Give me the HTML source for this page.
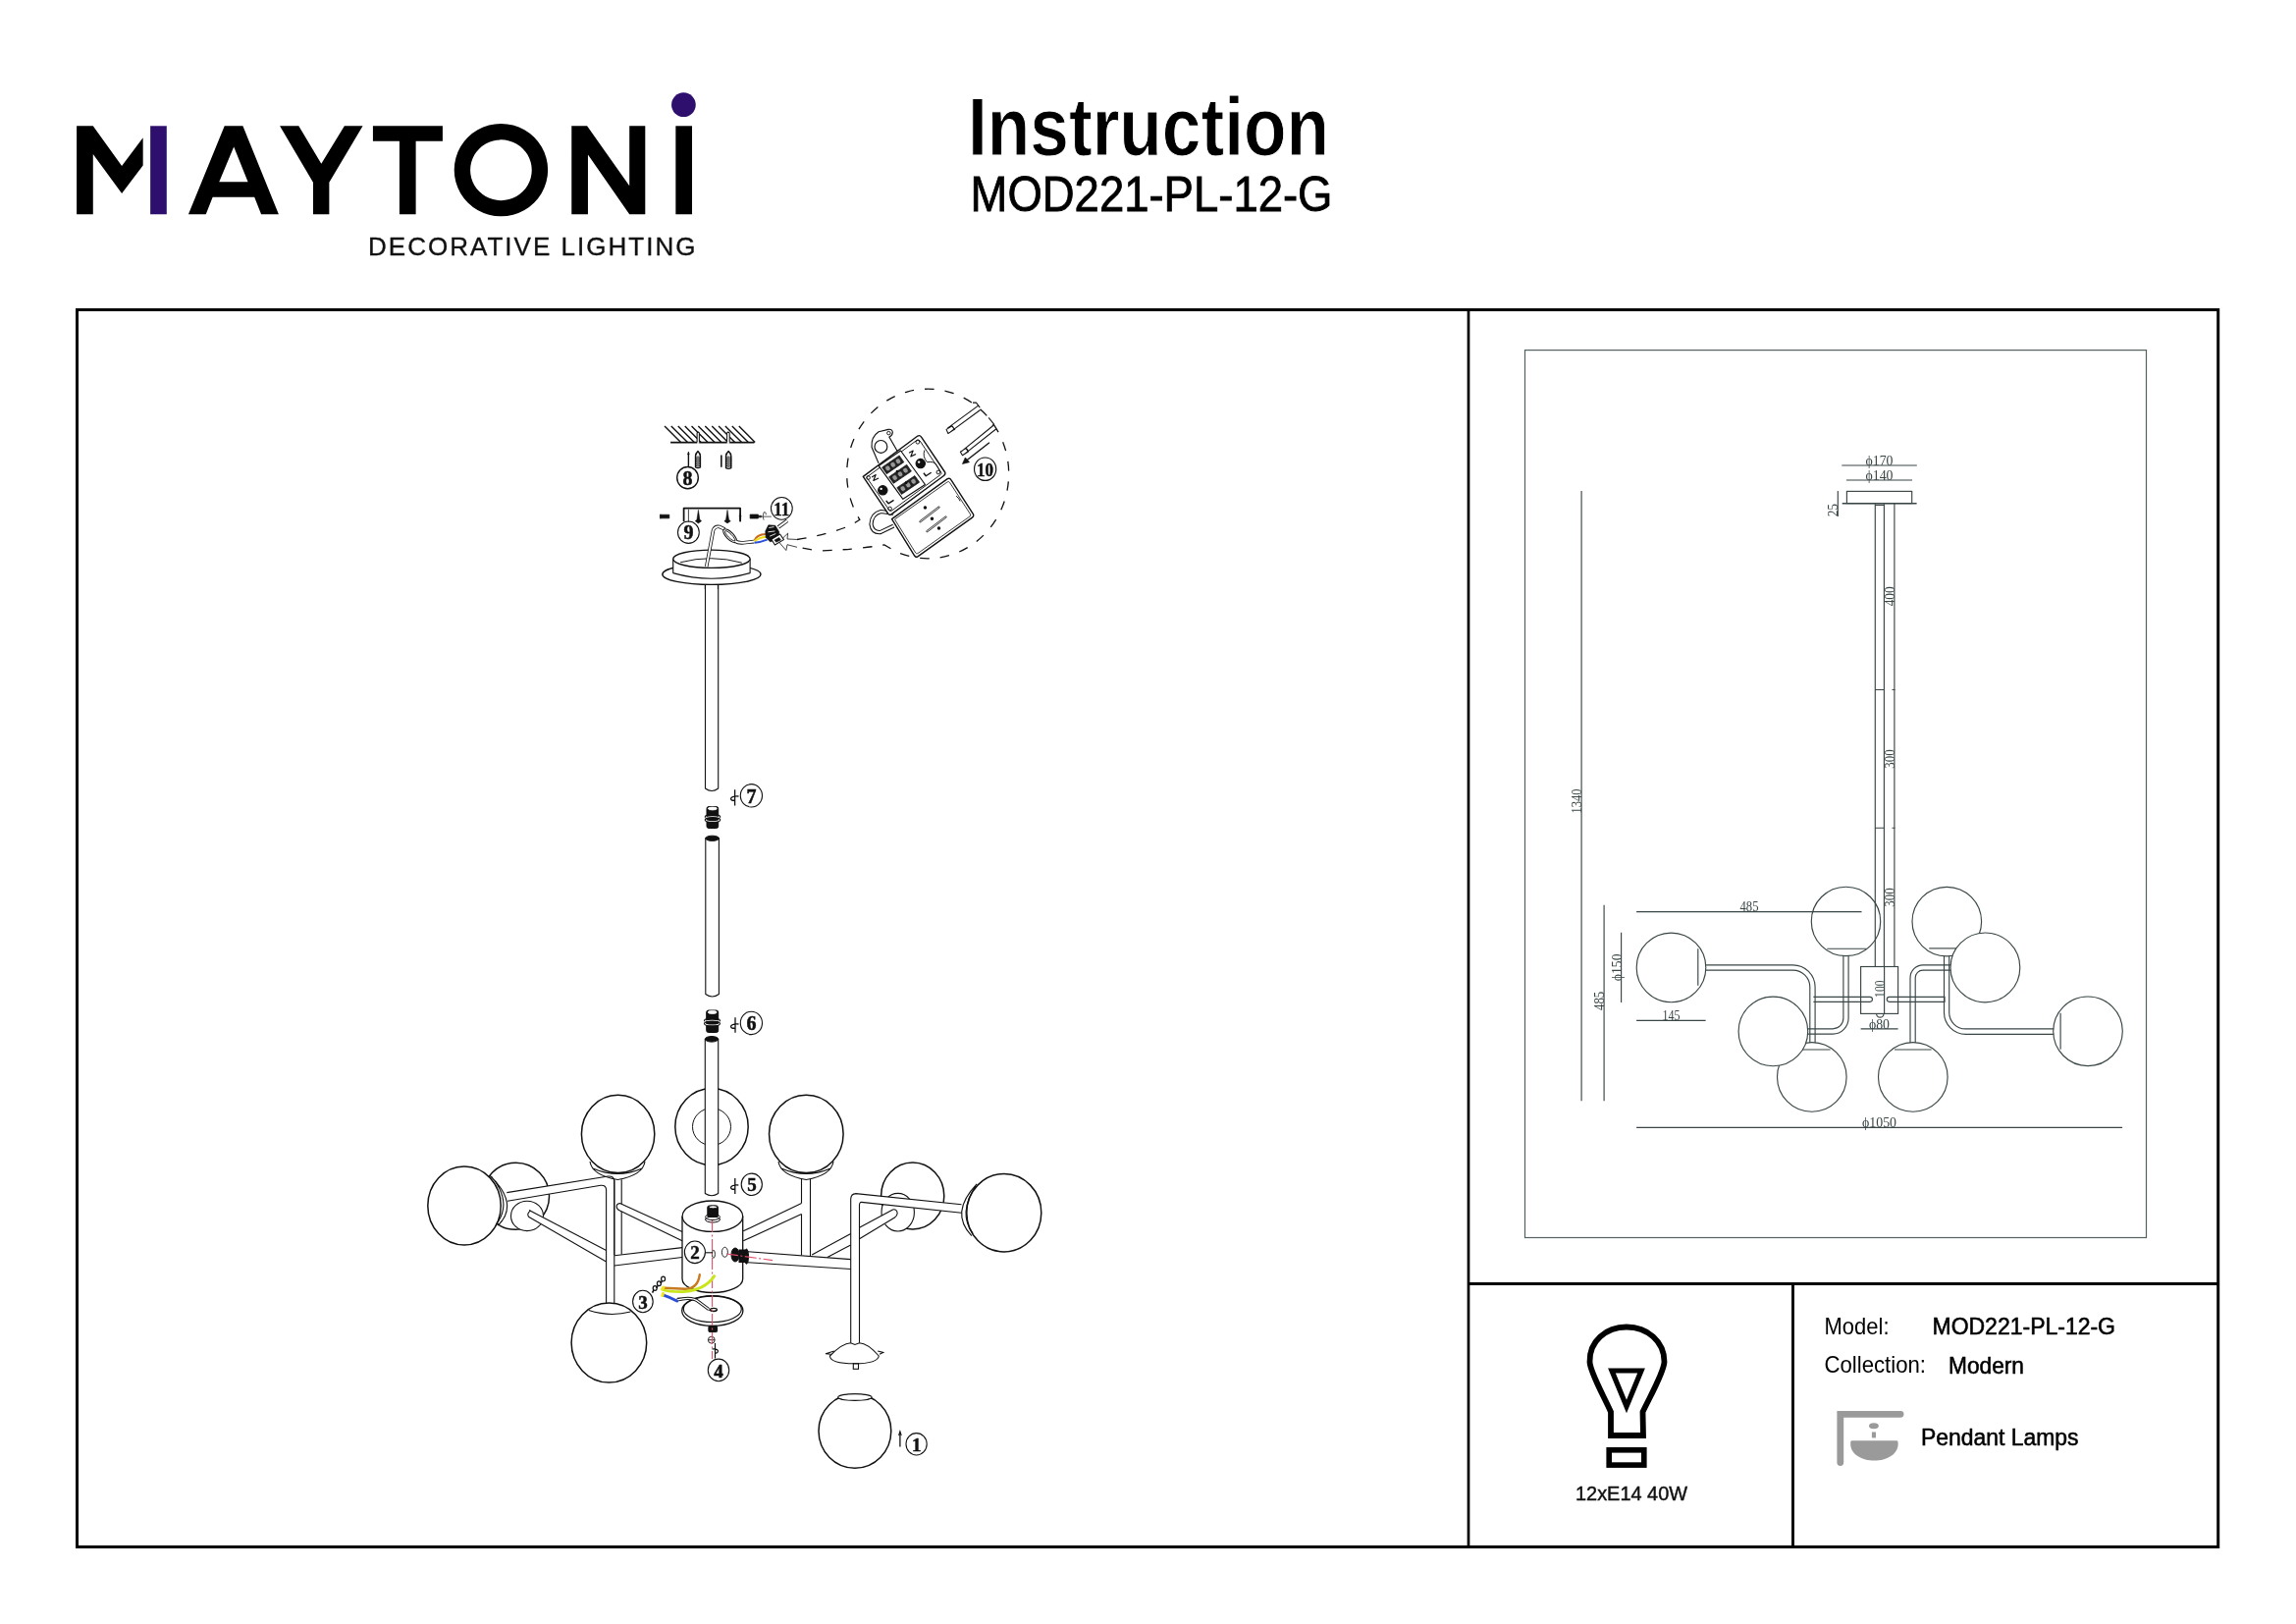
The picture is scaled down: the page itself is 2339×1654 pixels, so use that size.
<!DOCTYPE html>
<html><head><meta charset="utf-8">
<style>
html,body{margin:0;padding:0;background:#fff;}
body{width:2339px;height:1654px;overflow:hidden;position:relative;}
svg{position:absolute;left:0;top:0;will-change:transform;}
text{font-family:"Liberation Sans",sans-serif;}
.serif text,text.serif{font-family:"Liberation Serif",serif;}

</style></head><body>
<svg width="2339" height="1654" viewBox="0 0 2339 1654">
<!-- LOGO (zoom coords of region 60,80 scale 3.479) -->
<g transform="translate(60,80) scale(0.28744)">
<path fill="#000" d="M63,168 L121,168 L223,310 L298,210 L298,308 L223,407 L121,268 L121,481 L63,481 Z"/>
<rect x="324" y="168" width="58" height="313" fill="#2e0f6e"/>
<path fill="#000" fill-rule="evenodd" d="M459,481 L587,168 L652,168 L779,481 L717,481 L693,420 L545,420 L521,481 Z M568,366 L620,242 L670,366 Z"/>
<path fill="#000" d="M783,168 L850,168 L930,302 L1012,168 L1077,168 L958,368 L958,481 L901,481 L901,368 Z"/>
<path fill="#000" d="M1113,168 L1360,168 L1360,222 L1265,222 L1265,481 L1207,481 L1207,222 L1113,222 Z"/>
<path fill="#000" fill-rule="evenodd" d="M1567,160 A166,164 0 1,0 1567.01,160 Z M1567,217 A109,107.5 0 1,1 1566.99,217 Z"/>
<path fill="#000" d="M1817,168 L1872,168 L2022,380 L2022,168 L2078,168 L2078,481 L2022,481 L1875,270 L1875,481 L1817,481 Z"/>
<rect x="2186" y="168" width="58" height="313" fill="#000"/>
<circle cx="2214" cy="93" r="43" fill="#2e0f6e"/>
</g>
<text x="375" y="260" font-size="26" textLength="333.5" lengthAdjust="spacing" fill="#111" stroke="#111" stroke-width="0.35">DECORATIVE LIGHTING</text>
<!-- Title -->
<text x="986" y="157.7" font-size="84" font-weight="bold" textLength="368" lengthAdjust="spacingAndGlyphs" stroke="#fff" stroke-width="1">Instruction</text>
<text x="988.5" y="215" font-size="49.4" textLength="369" lengthAdjust="spacingAndGlyphs" stroke="#000" stroke-width="0.8">MOD221-PL-12-G</text>
<!-- Frame -->
<g stroke="#000" fill="none">
<rect x="78.5" y="315.5" width="2181.2" height="1260" stroke-width="3"/>
<line x1="1496" y1="315" x2="1496" y2="1576" stroke-width="2.7"/>
<line x1="1496" y1="1307.4" x2="2260" y2="1307.4" stroke-width="3"/>
<line x1="1826.5" y1="1307" x2="1826.5" y2="1576" stroke-width="2.9"/>
</g>
<rect x="1553.5" y="356.6" width="633" height="903.9" fill="none" stroke="#556061" stroke-width="1.2"/>
<!-- Bulb icon -->
<g fill="none" stroke="#000" stroke-width="5.8" stroke-linejoin="miter">
<path d="M1641,1462 L1641,1438 C1634,1422 1620,1398 1619.5,1387 C1619,1366 1636,1351.5 1657,1351.5 C1678,1351.5 1695.5,1366 1695.5,1387 C1695,1398 1681,1422 1673.5,1438 L1674,1462 Z"/>
<path d="M1642,1396 L1672,1396 L1657,1432.5 Z" stroke-width="5.2"/>
<rect x="1639.2" y="1476.8" width="35.6" height="15.3" stroke-width="5.6"/>
</g>
<text x="1605" y="1528" font-size="20" textLength="114" lengthAdjust="spacingAndGlyphs" stroke="#111" stroke-width="0.45" fill="#111">12xE14 40W</text>
<!-- Info -->
<text x="1858.5" y="1359.2" font-size="23.7" textLength="66" lengthAdjust="spacingAndGlyphs">Model:</text>
<text x="1968.5" y="1359.2" font-size="23.7" textLength="186.5" lengthAdjust="spacingAndGlyphs" stroke="#000" stroke-width="0.55">MOD221-PL-12-G</text>
<text x="1858.5" y="1398.2" font-size="23.2" textLength="103.5" lengthAdjust="spacingAndGlyphs">Collection:</text>
<text x="1985" y="1399" font-size="23.4" textLength="77" lengthAdjust="spacingAndGlyphs" stroke="#000" stroke-width="0.55">Modern</text>
<g fill="#9a9a9a">
<path d="M1874.8,1489.6 L1874.8,1440.3 L1936.1,1440.3" stroke="#9a9a9a" stroke-width="6.8" stroke-linecap="round" stroke-linejoin="miter" fill="none"/>
<ellipse cx="1908.9" cy="1452.2" rx="4.9" ry="3"/>
<rect x="1906.9" y="1458.5" width="4.1" height="5.9"/>
<path d="M1886.5,1467.3 L1932.3,1467.3 Q1933.6,1467.3 1933.6,1469 L1933.6,1471 C1933.6,1481 1922,1487.6 1909.4,1487.6 C1896.8,1487.6 1885.2,1481 1885.2,1471 L1885.2,1469 Q1885.2,1467.3 1886.5,1467.3 Z"/>
</g>
<text x="1957" y="1471.8" font-size="24.3" textLength="160.5" lengthAdjust="spacingAndGlyphs" stroke="#000" stroke-width="0.55">Pendant Lamps</text>
<!-- RIGHT TECH DRAWING -->
<g fill="none" stroke="#3a4646" stroke-width="1.15">
<!-- dimension lines -->
<path d="M1611.1,500 V1121.3 M1634.1,921.8 V1121.3 M1651.6,949.7 V1021.1 M1876.3,474 H1952.8 M1880.9,489 H1948 M1872.3,500 V526 M1929.9,513 V984.5 M1667.1,928.6 H1896.5 M1667.1,1039.4 H1737.6 M1895.6,1047.8 H1933.6 M1667.1,1148.3 H2162.1"/>
<path d="M1927.5,702.5 H1930.5 M1927.5,843.2 H1930.5"/>
<!-- canopy + stem -->
<rect x="1881.4" y="500.4" width="66.3" height="12.2"/>
<path d="M1876.7,512.8 H1952.6" stroke-width="1.6"/>
<path d="M1910.3,513.2 V984.5 M1919.4,513.2 V984.5 M1910.3,702.5 H1919.4 M1910.3,843.2 H1919.4 M1910.3,514.5 H1919.4"/>
<rect x="1895.6" y="984.5" width="38" height="47.9"/>
<path d="M1919.6,984.5 V1032.4"/>
<path d="M1911.6,1032.4 A3.7,3.7 0 0,0 1919,1032.4"/>
<!-- globes -->
<circle cx="1702.5" cy="985.4" r="35.3"/>
<path d="M1729.8,966.2 V1003.7"/>
<circle cx="1880.5" cy="938.4" r="35.2"/>
<path d="M1861.3,966.2 H1901.4"/>
<circle cx="1983.3" cy="938.6" r="35.3"/>
<path d="M1965.2,965.9 H1993.1"/>
<circle cx="2127" cy="1050.3" r="35.3"/>
<path d="M2099.1,1031.7 V1068.8"/>
<circle cx="1845.8" cy="1096.9" r="35.3"/>
<path d="M1827,1069 H1864.6"/>
<circle cx="1948.8" cy="1096.9" r="35.3"/>
<path d="M1930,1069 H1967.6"/>
<!-- arms -->
<path d="M1737.6,982.8 H1826.5 A22.6,22.6 0 0,1 1849.1,1005.4 V1062 M1737.6,988.1 H1826.5 A17.3,17.3 0 0,1 1843.8,1005.4 V1062"/>
<path d="M1877.9,973.6 V1037 A10.8,10.8 0 0,1 1867.1,1047.8 H1842 M1883.1,973.6 V1037 A16,16 0 0,1 1867.1,1053.1 H1842"/>
<path d="M1980.5,974 V1031.3 A22,22 0 0,0 2002.5,1053.3 H2092.2 M1985.7,974 V1031.3 A16.6,16.6 0 0,0 2002.3,1047.9 H2092.2"/>
<path d="M1987,982.9 H1959 A13,13 0 0,0 1946,995.9 V1061.9 M1987,988.1 H1959 A7.8,7.8 0 0,0 1951.2,995.9 V1061.9"/>
<path d="M1847.4,1015.4 H1905 A2.45,2.45 0 0,1 1905,1020.3 H1847.4 M1924.7,1015.4 H1981 V1020.3 H1924.7 A2.45,2.45 0 0,1 1924.7,1015.4"/>
</g>
<g fill="#fff" stroke="#3a4646" stroke-width="1.15">
<circle cx="2022.4" cy="985.4" r="35.4"/>
<circle cx="1806.4" cy="1050.4" r="35.3"/>
</g>
<g class="serif" font-family="Liberation Serif" font-size="14" fill="#3a4646" text-anchor="middle">
<text x="1914.5" y="473.5" textLength="28" lengthAdjust="spacingAndGlyphs">ϕ170</text>
<text x="1914.5" y="488.5" textLength="28" lengthAdjust="spacingAndGlyphs">ϕ140</text>
<text x="1782" y="928" textLength="19" lengthAdjust="spacingAndGlyphs">485</text>
<text x="1702.5" y="1039" textLength="18" lengthAdjust="spacingAndGlyphs">145</text>
<text x="1914.5" y="1047.5" textLength="21" lengthAdjust="spacingAndGlyphs">ϕ80</text>
<text x="1914.5" y="1148" textLength="35" lengthAdjust="spacingAndGlyphs">ϕ1050</text>
<text transform="translate(1872,519.6) rotate(-90)" textLength="12.8" lengthAdjust="spacingAndGlyphs">25</text>
<text transform="translate(1930,607.3) rotate(-90)" textLength="20" lengthAdjust="spacingAndGlyphs">400</text>
<text transform="translate(1929.5,773) rotate(-90)" textLength="19.5" lengthAdjust="spacingAndGlyphs">300</text>
<text transform="translate(1930,914) rotate(-90)" textLength="19.5" lengthAdjust="spacingAndGlyphs">300</text>
<text transform="translate(1611,816) rotate(-90)" textLength="25" lengthAdjust="spacingAndGlyphs">1340</text>
<text transform="translate(1634,1019.4) rotate(-90)" textLength="19.2" lengthAdjust="spacingAndGlyphs">485</text>
<text transform="translate(1652,985.4) rotate(-90)" textLength="27.8" lengthAdjust="spacingAndGlyphs">ϕ150</text>
<text transform="translate(1919.5,1007.2) rotate(-90)" textLength="17.4" lengthAdjust="spacingAndGlyphs">100</text>
</g>
<!-- LEFT EXPLODED DRAWING -->
<g fill="none" stroke="#111" stroke-width="1.2" stroke-linejoin="round">
<!-- back globe -->
<ellipse cx="725" cy="1147.6" rx="37.2" ry="39" stroke-width="1.5"/>
<ellipse cx="725" cy="1147.6" rx="19.5" ry="18.9" stroke-width="1"/>
<!-- back globes left/right -->
<ellipse cx="525.5" cy="1218.3" rx="34" ry="34" stroke-width="1.5"/>
<ellipse cx="929.7" cy="1218" rx="32.1" ry="34" stroke-width="1.5"/>
</g>
<g fill="#fff" stroke="#111" stroke-width="1.1" stroke-linejoin="round">
<ellipse cx="537" cy="1238.4" rx="16.5" ry="15.2"/>
<ellipse cx="914.7" cy="1234.7" rx="16.7" ry="19.3"/>
<!-- stems -->
<path d="M718.5,595.8 V803 Q725.1,808 731.7,803 V595.8"/>
<path d="M718.8,853.3 V1012.5 Q725.6,1017.5 732.4,1012.5 V853.3"/>
<path d="M718.3,1058.3 V1215.5 Q725,1220 731.7,1215.5 V1058.3"/>
</g>
<g fill="#111" stroke="#111" stroke-width="1">
<ellipse cx="725.6" cy="853.8" rx="6.8" ry="2.6"/>
<ellipse cx="725" cy="1058.3" rx="6.7" ry="2.8"/>
<!-- couplers -->
<rect x="720" y="821.5" width="11.7" height="22" rx="2"/>
<rect x="719.7" y="1029" width="12" height="22.5" rx="2"/>
</g>
<g fill="none" stroke="#fff" stroke-width="0.9">
<ellipse cx="725.8" cy="823.5" rx="4.5" ry="1.4" fill="#fff"/>
<ellipse cx="725.7" cy="1031" rx="4.5" ry="1.4" fill="#fff"/>
</g>
<g fill="none" stroke="#111" stroke-width="1.1">
<ellipse cx="726" cy="832" rx="7.8" ry="2.4"/>
<ellipse cx="726" cy="834.3" rx="7.8" ry="2.4" stroke="#fff" stroke-width="1.2"/>
<ellipse cx="726" cy="835" rx="7.8" ry="2.4"/>
<ellipse cx="725.5" cy="1039.5" rx="8" ry="2.4"/>
<ellipse cx="725.5" cy="1041.8" rx="8" ry="2.4" stroke="#fff" stroke-width="1.2"/>
<ellipse cx="725.5" cy="1042.5" rx="8" ry="2.4"/>
</g>
<!-- arms (behind front globes) -->
<g fill="#fff" stroke="none">
<path d="M516.3,1214.6 L621.2,1197.8 L625.8,1203 L625.8,1327 L617.6,1327 L617.6,1212 L612,1207.3 L517,1223.2 Z"/>
<path d="M871.9,1215.6 L979.5,1226.8 L979.5,1235.2 L877.6,1224.4 L875.5,1227.3 L875.5,1367 L866.7,1367 L866.7,1221.1 Z"/>
<path d="M540.7,1232.9 L617.6,1273.5 L617.6,1285 L538.9,1239.6 Z"/>
<path d="M875.5,1250.3 L909.5,1232 L913.2,1239.9 L875.5,1261.8 Z"/>
<path d="M626,1278.7 L695,1270.6 L695,1280.5 L626,1289 Z"/>
<path d="M761.9,1274.7 L866.7,1282.6 L866.7,1292.5 L761.9,1285.7 Z"/>
</g>

<g fill="none" stroke="#111" stroke-width="1.1" stroke-linejoin="round">
<!-- left L arm -->
<path d="M516.3,1214.6 L619.5,1198 Q625.5,1197.5 625.8,1203 V1327 M517,1223.2 L612,1207.3 Q617.6,1206.8 617.6,1212 V1327"/>
<!-- left diag from back-left cap to horizontal arm -->
<path d="M539,1232.5 L617.6,1273.5 M538.9,1239.6 L617.6,1285 M540.7,1232.9 Q536,1236 538.9,1239.6"/>
<path d="M626,1278.7 L695,1270.6 M626,1289 L695,1280.5"/>
<!-- top-left stem + upper diag -->
<path d="M625.8,1201.2 V1278 M633.2,1201.2 V1277.5"/>
<path d="M695,1254.4 L631.5,1225.6 Q627.5,1226 628.3,1230 Q629,1232 631.5,1233 L695,1263.8" fill="#fff"/>
<!-- right side -->
<path d="M757.2,1253.8 L816.5,1225.6 M757.2,1263.8 L816.5,1236.6"/>
<path d="M816.5,1201 V1225.6 M816.5,1236.6 V1278.5 M825.5,1201 V1279.3"/>
<path d="M761.9,1274.7 L866.7,1282.6 M761.9,1285.7 L866.7,1292.5"/>
<path d="M827.2,1277.9 L866.7,1256.4 M842.9,1280.5 L866.7,1267.9"/>
<path d="M875.5,1250.3 L909.5,1232 Q913.5,1231 914.2,1235.5 Q914,1238.5 911.5,1240 L875.5,1261.8"/>
<path d="M866.7,1367.7 V1221.1 Q867,1215.8 871.9,1215.6 L979.5,1226.8 M875.5,1367.7 V1227.3 Q875.8,1224.2 877.6,1224.4 L979.5,1235.2"/>
</g>
<!-- front globes -->
<g fill="#fff" stroke="#111" stroke-width="1.5">
<ellipse cx="473" cy="1228" rx="37.2" ry="40"/>
<ellipse cx="629.6" cy="1154.9" rx="37.2" ry="39.6"/>
<ellipse cx="821.3" cy="1154.9" rx="37.8" ry="39.6"/>
<ellipse cx="1022.8" cy="1235.2" rx="38" ry="39.7"/>
<ellipse cx="620.4" cy="1367.6" rx="38.3" ry="40.5"/>
<ellipse cx="870.9" cy="1457.5" rx="36.9" ry="37.7"/>
</g>
<g fill="none" stroke="#111" stroke-width="1.1">
<!-- caps -->
<path d="M498.7,1197 Q529.65,1226.2 507.2,1248.2 M500.5,1198.2 Q522.15,1224.15 506,1246.3"/>
<path d="M601,1183 Q603,1197 629.3,1201.5 Q655,1197 657,1183 M604,1190 Q629.3,1201 654,1190"/>
<path d="M793,1183 Q795,1197 821.3,1201.5 Q847,1197 849,1183 M796,1190 Q821.3,1201 846,1190"/>
<path d="M995.1,1205.9 Q967.15,1235.15 989.8,1258.6 M994.2,1207.8 Q975.45,1235.15 991.3,1256.7"/>
<path d="M599.8,1334.6 Q621.3,1341.5 642.4,1336"/>
<ellipse cx="870.9" cy="1423.1" rx="17.2" ry="3.3" fill="#fff"/>
<!-- body -->
<path d="M695,1238.7 V1302.4 A30.85,14.1 0 0,0 756.7,1302.4 V1238.7" fill="#fff" stroke-width="1.3"/>
<ellipse cx="725.9" cy="1238.7" rx="30.8" ry="15.7" fill="#fff" stroke-width="1.3"/>
<!-- plate -->
<ellipse cx="725.8" cy="1335" rx="31.1" ry="15.3" fill="#fff" stroke-width="1.3"/>
<ellipse cx="725.8" cy="1333.3" rx="29.5" ry="13.2"/>
<path d="M690.3,1322 Q705,1322.5 713,1326 L722,1334 Q727,1336.5 730,1334.5"/>
<ellipse cx="727" cy="1334" rx="3.5" ry="1.6"/>
<!-- cup -->
<path d="M845.4,1381 Q858,1368 866.6,1367.7 L870.9,1369.5 L875.5,1367.7 Q884,1368 895.3,1381 Q894,1388.8 870.4,1388.8 Q846,1388.8 845.4,1381 Z" fill="#fff"/>
<path d="M849.9,1376 L841,1378.8 L846.5,1379.2 M894.2,1376 L899.8,1377.5 L896,1379.3"/>
<rect x="869.3" y="1388.8" width="5.2" height="5.5"/>
</g>
<!-- nut on body -->
<g fill="#111" stroke="#111" stroke-width="1">
<rect x="720.8" y="1228" width="10.6" height="11.5" rx="1.5"/>
<ellipse cx="726" cy="1239.5" rx="7.5" ry="3" fill="none"/>
<ellipse cx="726" cy="1242" rx="7.5" ry="3" fill="none"/>
<rect x="721.9" y="1350.4" width="8.7" height="6.2" rx="1"/>
<!-- nut/collar near 2 -->
<ellipse cx="749" cy="1278" rx="4" ry="7"/>
<rect x="753" y="1273" width="7" height="12.5"/>
<ellipse cx="760.5" cy="1279.7" rx="2" ry="7.6"/>
</g>
<g fill="#fff" stroke="#111" stroke-width="0.9">
<ellipse cx="726.4" cy="1229.3" rx="4" ry="1.5"/>
<ellipse cx="738.4" cy="1275.3" rx="3" ry="5"/>
<ellipse cx="726.9" cy="1277.3" rx="1.5" ry="4"/>
<circle cx="724.8" cy="1364.7" r="3.4" fill="none"/>
<path d="M721.5,1364.7 H728" />
</g>
<!-- red centerlines -->
<g stroke="#e0506a" stroke-width="1.1" fill="none" stroke-dasharray="12,2.5,2,2.5">
<path d="M725.6,1243 V1384"/>
<path d="M740,1277 L787,1283.6"/>
</g>
<!-- wires -->
<path d="M689.6,1324 Q705,1320 712,1326 L722,1333.5" fill="none" stroke="#111" stroke-width="3.2"/>
<path d="M689.6,1324 Q705,1320 712,1326 L722,1333.5" fill="none" stroke="#fff" stroke-width="1.4"/>
<g fill="none" stroke-linecap="round">
<path d="M712.8,1298.1 Q711,1312.5 698,1312.8 L676.5,1311.8" stroke="#c87a1e" stroke-width="2.4"/>
<path d="M727.7,1299.6 Q718,1314 696,1315.6 Q683,1316 675,1313.5" stroke="#c8e61a" stroke-width="2.8"/>
<path d="M675.5,1318.8 Q682,1321 689.6,1325" stroke="#2b4fd8" stroke-width="3"/>
<path d="M676,1311 L674.5,1313 M675.5,1317.5 L674.8,1319.5" stroke="#f2e61a" stroke-width="3"/>
</g>
<g fill="#fff" stroke="#111" stroke-width="1.2">
<ellipse cx="667.2" cy="1312" rx="2" ry="2.4"/><path d="M665.8,1314.2 L664.6,1316.6" stroke-width="1.6"/>
<ellipse cx="671.4" cy="1307.3" rx="2" ry="2.4"/><path d="M670,1309.5 L668.8,1311.9" stroke-width="1.6"/>
<ellipse cx="675.6" cy="1302.6" rx="2" ry="2.4"/><path d="M674.2,1304.8 L673,1307.2" stroke-width="1.6"/>
</g>
<!-- number circles -->
<g fill="none" stroke="#111" stroke-width="1.1">
<ellipse cx="765.4" cy="810.3" rx="11.1" ry="11.7"/>
<ellipse cx="765.4" cy="1041.9" rx="11.1" ry="11.7"/>
<ellipse cx="765.8" cy="1206.3" rx="10.6" ry="11.2"/>
<ellipse cx="707.9" cy="1275.3" rx="10.5" ry="11.3"/>
<ellipse cx="654.9" cy="1325.5" rx="10.3" ry="11.3"/>
<ellipse cx="732" cy="1395.4" rx="10.7" ry="11.3"/>
<ellipse cx="933.6" cy="1470.8" rx="10.6" ry="11.2"/>
<path d="M718.4,1275.8 H726"/>
<!-- rotate symbols -->
<path d="M748.6,804.3 V820.6 M752.5,811 Q746,810.5 744.5,813.3 Q745,816 748.6,815" stroke-width="1.3"/>
<path d="M749,1036.3 V1051.7 M752.5,1043 Q746,1042.5 744.5,1045.3 Q745,1048 749,1047" stroke-width="1.3"/>
<path d="M748.8,1200 V1216 M752.3,1207 Q746,1206.5 744.5,1209.3 Q745,1212 748.8,1211" stroke-width="1.3"/>
<path d="M728.5,1368 V1383.5 M725.5,1374 Q731,1373.5 731.5,1376 Q731,1378.5 728.5,1378" stroke-width="1.2"/>
<path d="M916.9,1459 V1473.6" stroke-width="1.3"/>
<path d="M915.6,1462 L916.9,1457.8 L918.2,1462"/>
</g>
<g font-family="Liberation Serif" font-weight="bold" fill="#111" stroke="#111" stroke-width="0.5" text-anchor="middle" class="serif">
<text x="765.6" y="817.6" font-size="20">7</text>
<text x="765.6" y="1049" font-size="20">6</text>
<text x="765.9" y="1213.3" font-size="19">5</text>
<text x="708" y="1282.3" font-size="19">2</text>
<text x="655" y="1332.5" font-size="19">3</text>
<text x="732" y="1402.6" font-size="19">4</text>
<text x="933.8" y="1477.8" font-size="19">1</text>
</g>
<!-- TOP: ceiling, plugs, circle 8 (zoom 5.74 @650,380) -->
<g transform="translate(650,380) scale(0.174216)" fill="none" stroke="#111" stroke-width="8">
<path d="M190,405 H680" stroke-width="10"/>
<path d="M155,310 L250,405 M194,310 L290,405 M234,310 L329,405 M274,310 L368,405 M313,310 L408,405 M352,310 L448,405 M392,310 L487,405 M432,310 L526,405 M471,310 L566,405 M510,310 L606,405 M550,310 L645,405 M590,310 L684,405"/>
<path d="M345,412 V350 Q351,340 358,350 V412 M520,412 V350 Q527,340 535,350 V412" fill="#fff" stroke="none"/>
<path d="M345,405 V350 Q351,340 358,350 V405 M520,405 V350 Q527,340 535,350 V405" stroke-width="6"/>
<path d="M295,545 V470" />
<path d="M291,476 L295,460 L299,476 Z" fill="#111" stroke-width="5"/>
<path d="M487,480 V550" stroke-width="9"/>
<path d="M336,550 V485 Q336,470 350,457 Q364,470 364,485 V550 Q350,558 336,550 Z" fill="#fff"/>
<path d="M514,555 V485 Q514,470 529,457 Q544,470 544,485 V555 Q529,563 514,555 Z" fill="#fff"/>
<path d="M343,485 H357 V548 H343 Z M521,485 H537 V552 H521 Z" fill="#777" stroke="none"/>
<path d="M338,490 V548 M362,490 V548 M516,490 V552 M542,490 V552" stroke-width="10" stroke-dasharray="6,4"/>
<ellipse cx="290" cy="612" rx="62" ry="64"/>
</g>
<text x="700.5" y="494" font-size="20" font-weight="bold" text-anchor="middle" fill="#111" stroke="#111" stroke-width="0.5" class="serif" font-family="Liberation Serif">8</text>
<!-- bracket, canopy, wire (zoom 11.48 @650,500) -->
<g transform="translate(650,500) scale(0.087108)" fill="none" stroke="#111" stroke-width="14" stroke-linejoin="round">
<path d="M535,355 V202 H1195 V360" stroke-width="20"/>
<path d="M590,215 V365" stroke-width="9"/>
<path d="M705,222 L688,335 L668,352 L705,378 L742,352 L722,335 Z M1045,222 L1028,335 L1008,352 L1045,378 L1082,352 L1062,335 Z" fill="#111" stroke-width="6"/>
<path d="M1195,262 V360 M1180,295 H1210 M1183,320 H1207" stroke-width="10"/>
<path d="M262,278 H365 V320 H262 Z M262,270 Q250,298 262,328" fill="#111" stroke-width="8"/>
<path d="M1310,275 H1405 V322 H1310 Z M1405,290 H1440 V308 H1405" fill="#111" stroke-width="8"/>
<path d="M1440,300 H1560 M1470,340 Q1450,300 1470,250 Q1500,240 1495,280" stroke-width="8"/>
<ellipse cx="590" cy="485" rx="125" ry="128" stroke-width="12"/>
<ellipse cx="1680" cy="205" rx="125" ry="130" stroke-width="12"/>
<!-- canopy -->
<ellipse cx="860" cy="975" rx="575" ry="120" fill="#fff" stroke-width="16"/>
<path d="M410,795 V960 Q860,1090 1310,960 V795" fill="#fff" stroke-width="13"/>
<ellipse cx="860" cy="795" rx="450" ry="105" fill="#fff" stroke-width="16"/>
<path d="M495,835 Q860,740 1215,840" stroke-width="11"/>
<path d="M785,1100 V1148 M935,1100 V1148" stroke-width="13"/>
<!-- wire -->
<path d="M800,885 L880,455 Q900,412 950,418 L1015,448" stroke-width="40"/>
<path d="M800,885 L880,455 Q900,412 950,418 L1015,448" stroke="#fff" stroke-width="22"/>
<g transform="rotate(45 1075 525)">
<ellipse cx="1075" cy="525" rx="105" ry="42" stroke-width="12" fill="#fff"/>
<ellipse cx="1075" cy="525" rx="80" ry="22" stroke-width="10"/>
</g>
<path d="M1135,585 Q1170,612 1235,605 L1355,592" stroke-width="42"/>
<path d="M1135,585 Q1170,612 1235,605 L1355,592" stroke="#fff" stroke-width="24"/>
<path d="M1360,580 Q1385,510 1495,505" stroke="#c66a1a" stroke-width="22"/>
<path d="M1360,590 Q1410,545 1505,535" stroke="#f0e020" stroke-width="26"/>
<path d="M1360,605 Q1430,602 1510,570" stroke="#2b4fd8" stroke-width="22"/>
<path d="M1640,425 L1745,348" stroke-width="44"/>
<path d="M1640,425 L1745,348" stroke="#fff" stroke-width="24"/>
<path d="M1490,470 L1525,400 L1605,405 L1650,480 L1640,560 L1545,595 L1495,545 Z" fill="#111" stroke-width="8"/>
<path d="M1530,430 L1590,420 M1520,480 L1600,470 M1540,530 L1610,500" stroke="#fff" stroke-width="10"/>
<path d="M1560,565 L1660,505 L1705,570 L1600,632 Z" fill="#fff" stroke-width="12"/>
<path d="M1595,575 L1650,545 L1670,575 L1615,600 Z" fill="#111" stroke-width="6"/>
<path d="M1860,568 L1745,562 L1752,495 L1690,555 M1860,658 L1745,628 L1732,695 L1650,600" stroke-width="9"/>
</g>
<g class="serif" font-family="Liberation Serif" font-weight="bold" fill="#111" stroke="#111" stroke-width="0.5" text-anchor="middle">
<text x="701.4" y="549.3" font-size="20">9</text>
<text x="796.3" y="525" font-size="19" textLength="16" lengthAdjust="spacingAndGlyphs">11</text>
</g>
<!-- dashed callout -->
<path d="M812,549.5 Q845,544 866.9,535 L875.8,529.2 A82.5,86.3 0 1,1 913.1,562 L900.9,554.9 Q870,560 833,561 L812,557" fill="none" stroke="#111" stroke-width="1.3" stroke-dasharray="9.5,11"/>
<!-- detail inside callout (zoom 8.55 @860,390) -->
<g transform="translate(860,390) scale(0.116959)" fill="none" stroke="#111" stroke-width="10" stroke-linejoin="round">
<path d="M430,1135 L320,1120 Q240,1140 235,1230 Q245,1305 315,1300 L430,1245" stroke-width="36"/>
<path d="M430,1135 L320,1120 Q240,1140 235,1230 Q245,1305 315,1300 L430,1245" stroke="#fff" stroke-width="18"/>
<path d="M300,700 L240,560 Q232,470 300,425 L385,405 Q420,400 422,432 Q418,462 392,470 L462,592" fill="#fff"/>
<circle cx="320" cy="555" r="55"/>
<circle cx="388" cy="437" r="15" stroke-width="8"/>
<path d="M165,815 L640,462 Q660,452 672,472 L878,778 Q885,798 865,810 L410,1145 Q392,1155 380,1135 Z" fill="#fff" stroke-width="12"/>
<path d="M195,822 L635,497 Q650,490 660,505 L845,780 Q850,792 838,800 L415,1112 Q402,1120 393,1108 Z" stroke-width="8"/>
<path d="M300,722 L492,590 L705,885 L512,1012 Z" fill="#fff" stroke-width="10"/>
<path d="M330,735 L480,632 L520,690 L370,792 Z M390,818 L545,712 L585,770 L430,875 Z M460,912 L615,808 L655,865 L500,970 Z" fill="#222" stroke-width="6"/>
<g fill="#999" stroke="#111" stroke-width="5"><ellipse cx="380" cy="743" rx="22" ry="25" transform="rotate(-35 380 743)"/><ellipse cx="425" cy="712" rx="22" ry="25" transform="rotate(-35 425 712)"/><ellipse cx="470" cy="682" rx="22" ry="25" transform="rotate(-35 470 682)"/><ellipse cx="441" cy="825.4" rx="22" ry="25" transform="rotate(-35 441 825.4)"/><ellipse cx="487.5" cy="793.75" rx="22" ry="25" transform="rotate(-35 487.5 793.75)"/><ellipse cx="534" cy="762" rx="22" ry="25" transform="rotate(-35 534 762)"/><ellipse cx="511" cy="920" rx="22" ry="25" transform="rotate(-35 511 920)"/><ellipse cx="557.5" cy="888.75" rx="22" ry="25" transform="rotate(-35 557.5 888.75)"/><ellipse cx="604" cy="857.6" rx="22" ry="25" transform="rotate(-35 604 857.6)"/></g>
<circle cx="462" cy="770" r="7" fill="#111"/>
<circle cx="540" cy="870" r="7" fill="#111"/>
<circle cx="336" cy="935" r="40" fill="#111"/>
<circle cx="665" cy="702" r="40" fill="#111"/>
<circle cx="322" cy="922" r="10" fill="#fff" stroke="none"/>
<circle cx="651" cy="689" r="10" fill="#fff" stroke="none"/>
<path d="M365,1025 L385,1050 L432,1020 M692,785 L712,810 L758,780" stroke-width="12"/>
<path d="M240,820 L275,800 L255,850 L300,830 M565,610 L600,590 L580,640 L625,620" stroke-width="10"/>
<circle cx="210" cy="825" r="16" stroke-width="8"/>
<circle cx="398" cy="1095" r="16" stroke-width="8"/>
<circle cx="640" cy="515" r="16" stroke-width="8"/>
<circle cx="820" cy="778" r="16" stroke-width="8"/>
<path d="M700,585 Q680,640 722,690 Q785,680 805,715 L835,770" stroke-width="8"/>
<path d="M415,1185 L900,835 Q920,825 932,845 L1125,1145 Q1130,1162 1115,1172 L640,1512 Q625,1522 613,1505 Z" fill="#fff" stroke-width="12"/>
<path d="M440,1188 L900,862 Q912,856 920,868 L1100,1145 Q1104,1155 1095,1162 L640,1485 Q630,1490 622,1480 Z" stroke-width="7"/>
<path d="M975,985 Q1000,1000 1010,1030" stroke-width="8"/>
<path d="M655,1205 L825,1075 L832,1085 L662,1215 Z M715,1290 L885,1160 L892,1170 L722,1300 Z" stroke-width="7"/>
<circle cx="705" cy="1085" r="10" fill="#111"/>
<circle cx="765" cy="1182" r="10" fill="#111"/>
<circle cx="825" cy="1265" r="10" fill="#111"/>
<path d="M900,395 L1165,200 M922,428 L1185,235 M890,405 L940,375 L960,405 L905,440 Z M945,380 L965,410 M1120,172 L1150,172 L1182,215" stroke-width="9"/>
<path d="M1020,598 L1300,370 M1040,625 L1325,400 M1012,600 L1060,570 L1080,598 L1030,630 Z M1065,570 L1085,600 M1258,302 L1305,360 L1290,372" stroke-width="9"/>
<path d="M1265,520 L1060,680" stroke-width="12"/>
<path d="M1030,705 L1055,650 L1090,690 Z" fill="#111" stroke-width="6"/>
<ellipse cx="1228" cy="750" rx="95" ry="100" stroke-width="10"/>
</g>
<text x="1003.6" y="485" font-size="19" font-weight="bold" text-anchor="middle" fill="#111" stroke="#111" stroke-width="0.5" class="serif" font-family="Liberation Serif" textLength="17" lengthAdjust="spacingAndGlyphs">10</text>
</svg>
</body></html>
